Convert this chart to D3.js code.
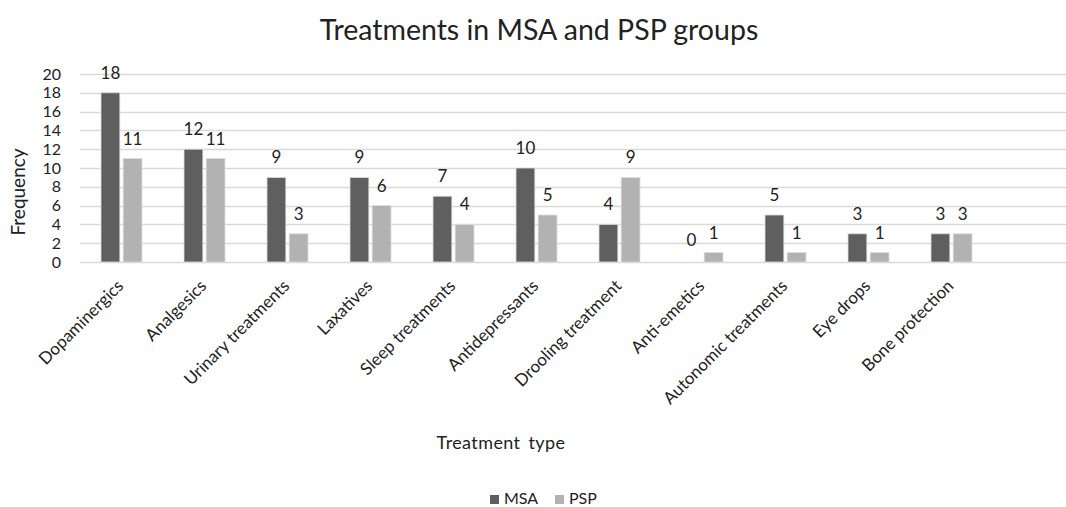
<!DOCTYPE html>
<html>
<head>
<meta charset="utf-8">
<script src="https://cdn.jsdelivr.net/npm/d3@7"></script>
<style>
  body { margin: 0; background: #fff; }
  text { font-family: Lato, "Open Sans", sans-serif; fill: #222; }
</style>
</head>
<body>
<div class="chart"></div>
<script>
// data
const categories = ["Dopaminergics", "Analgesics", "Urinary treatments", "Laxatives", "Sleep treatments",
  "Antidepressants", "Drooling treatment", "Anti-emetics", "Autonomic treatments", "Eye drops", "Bone protection"];
const msa = [18, 12, 9, 9, 7, 10, 4, 0, 5, 3, 3];
const psp = [11, 11, 3, 6, 4, 5, 9, 1, 1, 1, 3];
const seriesNames = ["MSA", "PSP"];
const yTicks = [0, 2, 4, 6, 8, 10, 12, 14, 16, 18, 20];

let width = 1066, height = 507;
let margin = {top: 74, left: 80, bottom: 245};
const plotBottom = height - margin.bottom; // 262
const bandW = 83;

const svg = d3.select(".chart").append("svg")
  .attr("width", width).attr("height", height);

// title
svg.append("text")
  .attr("x", 539).attr("y", 40)
  .attr("text-anchor", "middle")
  .style("font-size", "28.5px")
  .text("Treatments in MSA and PSP groups");

let x = d3.scaleBand()
  .domain(categories)
  .range([margin.left, margin.left + bandW * categories.length]);

let xs = d3.scaleBand()
  .domain(seriesNames)
  .range([21, 62])
  .paddingInner(0.15);

let y = d3.scaleLinear()
  .domain([0, 20])
  .range([plotBottom, margin.top]);

// gridlines
svg.append("g")
  .selectAll("line")
  .data(yTicks)
  .enter().append("line")
    .attr("x1", margin.left).attr("x2", width)
    .attr("y1", d => Math.round(y(d)) + 0.5).attr("y2", d => Math.round(y(d)) + 0.5)
    .attr("stroke", "#d9d9d9")
    .attr("stroke-width", 1.5);

// y axis labels
const yAxis = svg.append("g")
  .attr("transform", "translate(" + (margin.left - 19) + ",0)")
  .call(d3.axisLeft(y).tickValues(yTicks).tickSize(0).tickPadding(0));
yAxis.select(".domain").remove();
yAxis.selectAll("text")
  .style("font-size", "16px")
  .style("font-family", "Lato, sans-serif")
  .attr("fill", "#222");

svg.append("text")
  .attr("transform", "translate(25,192) rotate(-90)")
  .attr("text-anchor", "middle")
  .style("font-size", "19px")
  .text("Frequency");

const colors = {MSA: "#5f5f5f", PSP: "#b2b2b2"};
const rows = categories.map((c, i) => ({cat: c, MSA: msa[i], PSP: psp[i]}));

const groups = svg.append("g")
  .selectAll("g")
  .data(rows)
  .enter().append("g")
    .attr("transform", d => "translate(" + x(d.cat) + ",0)");

groups.selectAll("rect")
  .data(d => seriesNames.map(s => ({s: s, v: d[s]})))
  .enter().append("rect")
    .attr("x", d => xs(d.s))
    .attr("y", d => y(d.v))
    .attr("width", xs.bandwidth())
    .attr("height", d => y(0) - y(d.v))
    .attr("fill", d => colors[d.s])
    .attr("stroke", d => d.v > 0 ? "#dcdcdc" : "none")
    .attr("stroke-width", 0.8);

groups.selectAll(".lbl")
  .data(d => seriesNames.map(s => ({s: s, v: d[s]})))
  .enter().append("text")
    .attr("class", "lbl")
    .attr("x", d => xs(d.s) + xs.bandwidth() / 2)
    .attr("y", d => y(d.v) - (d.v === 0 ? 16 : 14))
    .attr("text-anchor", "middle")
    .style("font-size", "17px")
    .text(d => d.v);

// x axis labels, rotated
const xAxis = svg.append("g")
  .attr("transform", "translate(0," + plotBottom + ")")
  .call(d3.axisBottom(x).tickSize(0).tickPadding(0));
xAxis.select(".domain").remove();
xAxis.selectAll("text")
  .style("font-size", "17px")
  .style("font-family", "Lato, sans-serif")
  .attr("fill", "#222")
  .attr("text-anchor", "end")
  .attr("dy", null)
  .attr("transform", "translate(3,25) rotate(-45)");

svg.append("text")
  .attr("x", 501).attr("y", 449)
  .attr("text-anchor", "middle")
  .style("font-size", "18px")
  .style("letter-spacing", "0.4px")
  .style("word-spacing", "3px")
  .text("Treatment type");

// legend
const legend = svg.append("g").attr("transform", "translate(490,499)");
const legX = [0, 65];
seriesNames.forEach((s, i) => {
  legend.append("rect")
    .attr("x", legX[i]).attr("y", -4)
    .attr("width", 9).attr("height", 9)
    .attr("fill", colors[s]);
  legend.append("text")
    .attr("x", legX[i] + 14).attr("y", 5)
    .style("font-size", "16px")
    .text(s);
});
</script>
</body>
</html>
